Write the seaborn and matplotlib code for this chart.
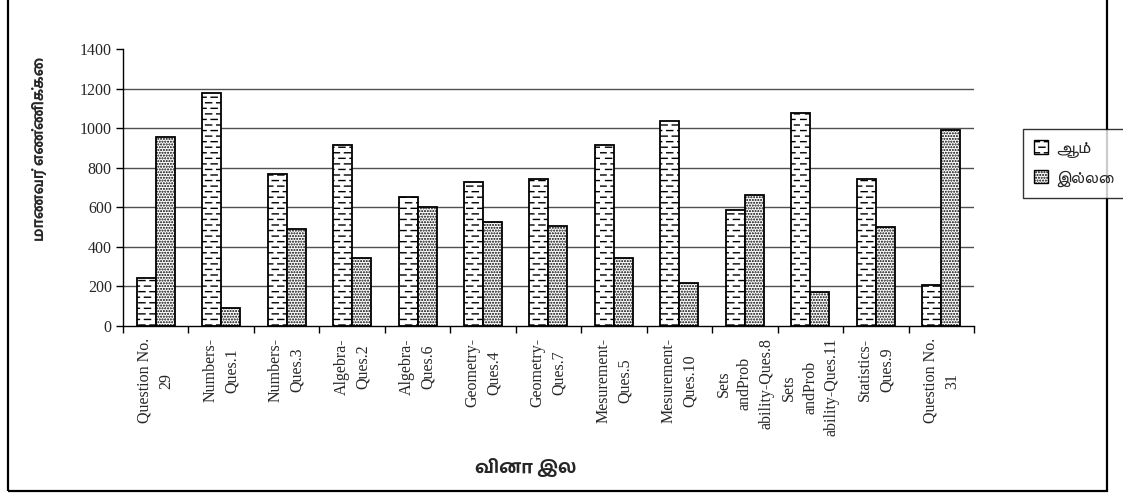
import numpy as np
import pandas as pd
import matplotlib
matplotlib.use("Agg")
import matplotlib.pyplot as plt
import matplotlib.hatch as mhatch
from matplotlib import font_manager
from matplotlib.path import Path
from matplotlib.patches import Rectangle
import seaborn as sns

# ---- data -------------------------------------------------------------
questions = [
    "Question No.\n29", "Numbers-\nQues.1", "Numbers-\nQues.3",
    "Algebra-\nQues.2", "Algebra-\nQues.6", "Geometry-\nQues.4",
    "Geometry-\nQues.7", "Mesurement-\nQues.5", "Mesurement-\nQues.10",
    "Sets\nandProb\nability-Ques.8", "Sets\nandProb\nability-Ques.11",
    "Statistics-\nQues.9", "Question No.\n31",
]
yes_counts = [243, 1176, 767, 913, 650, 728, 742, 913, 1037, 585, 1076, 742, 205]
no_counts = [956, 87, 488, 341, 600, 525, 505, 341, 216, 662, 172, 500, 990]
series_names = ["ஆம்", "இல்லை"]
y_ticks = [0, 200, 400, 600, 800, 1000, 1200, 1400]
x_title = "வினா இல"
y_title = "மாணவர் எண்ணிக்கை"


# ---- a dashed-row hatch used for the first series ---------------------
class DashHatch(mhatch.HatchPatternBase):
    """Staggered short horizontal dashes, triggered by '-' in a hatch string."""

    def __init__(self, hatch, density):
        n = hatch.count('-')
        self.rows = 18 * n
        self.per_row = 9 * n
        self.num_vertices = self.rows * self.per_row * 2

    def set_vertices_and_codes(self, vertices, codes):
        period = 1.0 / self.per_row
        dash = period * 0.55
        k = 0
        for r in range(self.rows):
            y = (r + 0.5) / self.rows
            shift = 0.0 if r % 2 == 0 else period * 0.5
            for c in range(self.per_row):
                x0 = (c * period + shift) % 1.0
                x1 = min(x0 + dash, 1.0)
                vertices[k] = (x0, y)
                vertices[k + 1] = (x1, y)
                codes[k] = Path.MOVETO
                codes[k + 1] = Path.LINETO
                k += 2


mhatch._hatch_types[0] = DashHatch

# ---- fonts ------------------------------------------------------------
installed = {f.name for f in font_manager.fontManager.ttflist}
tamil_regular = [n for n in ("FreeSans", "Hind Madurai") if n in installed] + ["DejaVu Sans"]
tamil_bold = [n for n in ("Hind Madurai", "FreeSans") if n in installed] + ["DejaVu Sans"]

sns.set_theme(style="white")
plt.rcParams["font.family"] = ["Liberation Serif", "DejaVu Serif"]
plt.rcParams["hatch.linewidth"] = 1.0

# ---- tidy frame -------------------------------------------------------
df = pd.DataFrame({
    "question": questions * 2,
    "count": yes_counts + no_counts,
    "answer": [series_names[0]] * len(questions) + [series_names[1]] * len(questions),
})

fig = plt.figure(figsize=(11.23, 5.04), dpi=100)
ax = fig.add_axes([0.1095, 0.3538, 0.7578, 0.5490])

sns.barplot(
    data=df, x="question", y="count", hue="answer",
    hue_order=series_names, order=questions,
    palette=["white", "white"], width=0.58, gap=0,
    edgecolor="black", linewidth=1.3, ax=ax, legend=False,
)

hatches = ["-", "......"]
for container, h in zip(ax.containers, hatches):
    for bar in container:
        bar.set_hatch(h)
        bar.set_edgecolor("black")

ax.set_ylim(0, 1400)
ax.set_xlim(-0.5, len(questions) - 0.5)
ax.set_yticks(y_ticks)
ax.set_yticklabels([str(v) for v in y_ticks], fontsize=11.5)

# horizontal gridlines, without one at the top of the axis
ax.yaxis.grid(True, color="#505050", linewidth=1.0)
ax.set_axisbelow(True)
for gl, v in zip(ax.get_ygridlines(), y_ticks):
    if v in (0, y_ticks[-1]):
        gl.set_visible(False)

for side in ("top", "right"):
    ax.spines[side].set_visible(False)
for side in ("left", "bottom"):
    ax.spines[side].set_color("black")
    ax.spines[side].set_linewidth(1.0)

ax.tick_params(axis="y", which="major", direction="out", length=5, width=1,
               color="black", left=True, pad=3)
ax.set_xticks(np.arange(len(questions)))
ax.set_xticklabels(questions, rotation=90, fontsize=11.5, va="top",
                   ha="center", multialignment="center", linespacing=1.45)
ax.set_xticks(np.arange(len(questions) + 1) - 0.5, minor=True)
ax.tick_params(axis="x", which="major", length=0, pad=9)
ax.tick_params(axis="x", which="minor", direction="out", length=5, width=1,
               color="black", bottom=True)

ax.set_xlabel("")
ax.set_ylabel("")
fig.text(0.468, 0.073, x_title, ha="center", va="center", fontsize=13,
         fontweight="bold", family=tamil_bold)
fig.text(0.034, 0.705, y_title, ha="center", va="center", rotation=90,
         fontsize=10.5, fontweight="bold", family=tamil_bold)

# legend on the right side, running past the figure edge
handles = [Rectangle((0, 0), 1, 1, facecolor="white", edgecolor="black",
                     hatch=h, linewidth=1.0) for h in hatches]
leg = fig.legend(handles, series_names, loc="upper left",
                 bbox_to_anchor=(1023 / 1123, 1 - 129 / 504, 0.2, 0.0),
                 mode="expand", frameon=True, fancybox=False, borderpad=0.65,
                 borderaxespad=0.0, handlelength=0.8, handleheight=0.8,
                 handletextpad=0.4, labelspacing=0.7,
                 prop=font_manager.FontProperties(family=tamil_regular, size=12.5))
leg.get_frame().set_edgecolor("black")
leg.get_frame().set_linewidth(1.0)
leg.set_zorder(5)

# chart-area border
border = Rectangle((8 / 1123, 1 - 491 / 504), (1107 - 8) / 1123, 1.2,
                   transform=fig.transFigure, fill=False, edgecolor="black",
                   linewidth=1.6, clip_on=False, zorder=1)
fig.patches.append(border)

fig.savefig("out.png", dpi=100)
